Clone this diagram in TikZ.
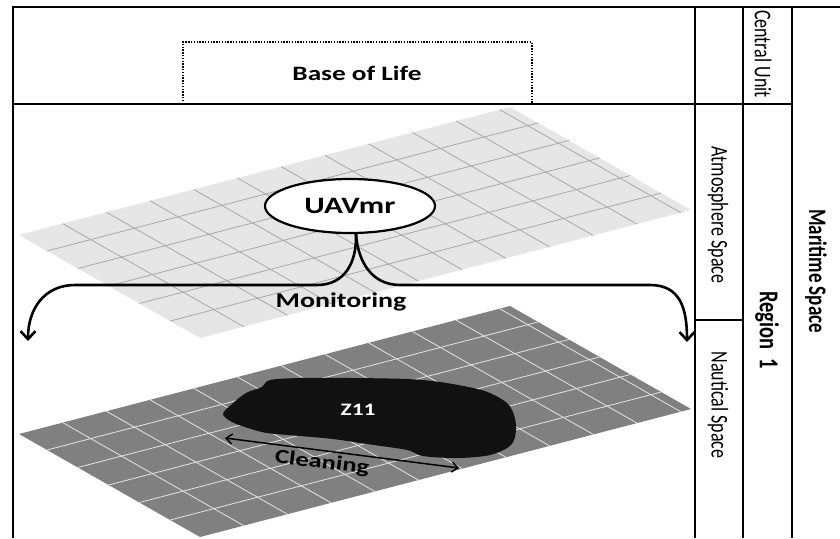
\documentclass[tikz,border=0pt]{standalone}
\usepackage{fontspec}
\setmainfont{Carlito}
\usepackage{graphicx}
\usetikzlibrary{arrows.meta,calc,shapes.geometric}

\definecolor{skyfill}{HTML}{E6E6E6}
\definecolor{skygrid}{HTML}{A8A8A8}
\definecolor{seafill}{HTML}{808080}
\definecolor{seagrid}{HTML}{E4E4E4}
\definecolor{spill}{HTML}{111111}

% text is set wide (horizontal) or tall (before a quarter turn)
\newcommand{\widetext}[1]{\scalebox{1.33}[1]{#1}}
\newcommand{\talltext}[1]{\scalebox{1}[1.33]{#1}}

\begin{document}
\begin{tikzpicture}[x=1pt,y=-1pt,
  frame/.style={line width=2pt, black},
  boldtxt/.style={inner sep=0pt, font=\fontsize{#1}{#1}\selectfont\bfseries},
  sidetxt/.style={inner sep=0pt, rotate=-90, font=\fontsize{#1}{#1}\selectfont},
  sidebold/.style={inner sep=0pt, rotate=-90, font=\fontsize{#1}{#1}\selectfont\bfseries},
  flow/.style={line width=2.6pt, -{Straight Barb[length=8pt,width=15pt]}},
  sweep/.style={line width=1.5pt, {Straight Barb[length=6pt,width=10pt]}-{Straight Barb[length=6pt,width=10pt]}},
]
\useasboundingbox (0,0) rectangle (840,538);
\fill[white] (0,0) rectangle (840,538);

% the two gridded planes: atmosphere (light) and sea surface (dark)
\coordinate (skyL) at (19,235);  \coordinate (skyT) at (510,107);
\coordinate (skyB) at (200,338); \coordinate (skyR) at (691,210);
\coordinate (seaL) at (19,434);  \coordinate (seaT) at (510,306);
\coordinate (seaB) at (200,537); \coordinate (seaR) at (691,409);

\foreach \p/\f/\g in {sky/skyfill/skygrid, sea/seafill/seagrid}{
  \fill[\f] (\p L) -- (\p T) -- (\p R) -- (\p B) -- cycle;
  \begin{scope}[draw=\g, line width=0.8pt]
    \foreach \k in {1,...,11}{
      \pgfmathsetmacro\t{0.089*\k}
      \draw ($(\p L)!\t!(\p T)$) -- ($(\p B)!\t!(\p R)$);
    }
    \foreach \k in {0,...,4}{
      \pgfmathsetmacro\s{0.155+0.17*\k}
      \draw ($(\p L)!\s!(\p B)$) -- ($(\p T)!\s!(\p R)$);
    }
  \end{scope}
}

% polluted zone on the sea surface
\fill[spill] plot[smooth cycle, tension=0.55] coordinates {
  (223,414) (232,404) (246,393) (262,387) (270,380) (300,378) (350,378)
  (407,379) (440,382) (473,388) (490,393) (507,403) (514,415) (516,430)
  (511,445) (490,455) (457,458) (423,456) (407,450) (367,444) (333,439)
  (300,436) (267,433) (248,428) (232,422)};

% table frame
\draw[frame] (13,538) -- (13,7) -- (840,7);
\draw[frame] (13,104) -- (792,104);
\draw[frame] (695,7) -- (695,538);
\draw[frame] (743,7) -- (743,538);
\draw[frame] (792,7) -- (792,538);
\draw[frame] (695,320) -- (743,320);

% base of life
\draw[line width=1.4pt, dash pattern=on 1.4pt off 1.4pt] (183,104) -- (183,42) -- (532,42) -- (532,104);
\node[boldtxt=20.5] (bol) at (357,73) {\widetext{Base of Life}};

% UAV and monitoring links
\node[draw, ellipse, line width=2.2pt, fill=white, minimum width=170pt,
      minimum height=54pt, inner sep=0pt, font=\fontsize{23.5}{23.5}\selectfont\bfseries]
      (uav) at (350,206) {\widetext{UAVmr}};
\coordinate (aL) at (28,341);
\coordinate (aR) at (687,342);
\draw[flow] (uav.-78) .. controls (357,262) and (345,285) .. (317,285) -- (75,285)
  .. controls (45,285) and (28,308) .. (aL);
\draw[flow] (uav.-78) .. controls (358,262) and (372,285) .. (400,285) -- (650,285)
  .. controls (680,285) and (687,308) .. (aR);
\node[boldtxt=21] (mon) at (341,302) {\widetext{Monitoring}};

% zone label and cleaning sweep
\node[boldtxt=17.5, text=white] (zone) at (358,410) {\widetext{Z11}};
\coordinate (cL) at (225,438);
\coordinate (cR) at (459,468);
\draw[sweep] (cL) -- (cR);
\node[boldtxt=20, rotate=-7] (clean) at (322,463) {\widetext{Cleaning}};

% column headings
\node[sidetxt=18] (cu) at (763,54) {\talltext{Central Unit}};
\node[sidetxt=18] (atm) at (718,215) {\talltext{Atmosphere Space}};
\node[sidetxt=18] (nau) at (718,405) {\talltext{Nautical Space}};
\node[sidebold=20.5] (reg) at (767,330) {\talltext{Region\ \ 1}};
\node[sidebold=19] (mar) at (816,271) {\talltext{Maritime Space}};
\end{tikzpicture}
\end{document}
